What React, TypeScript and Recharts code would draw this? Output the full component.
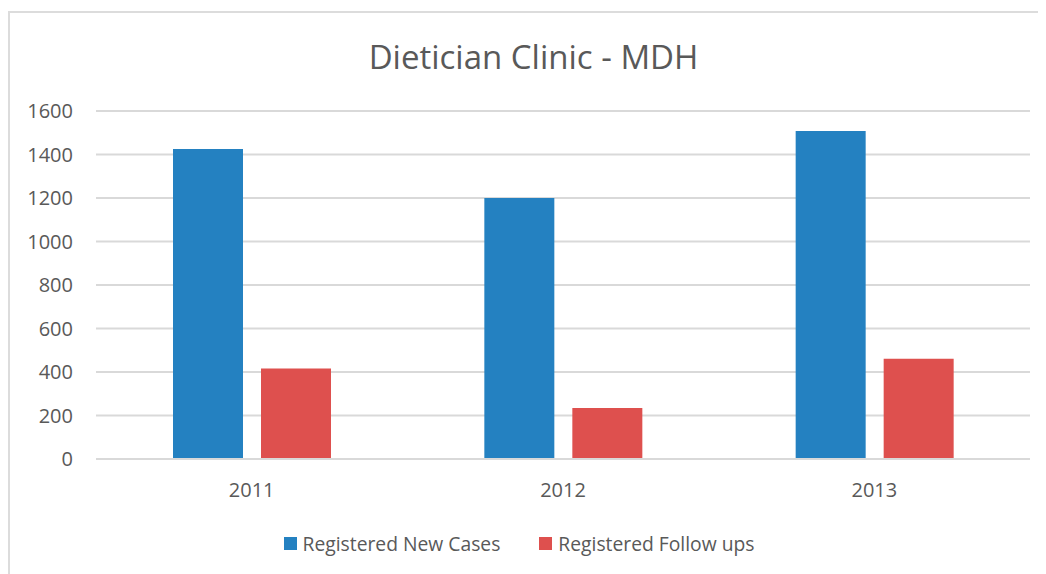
import { Bar, BarChart, CartesianGrid, Legend, XAxis, YAxis } from "recharts";

const years = ["2011", "2012", "2013"];
const newCases = [1425, 1200, 1508];
const followUps = [416, 234, 461];
const yTicks = [0, 200, 400, 600, 800, 1000, 1200, 1400, 1600];

const SERIES = [
  { key: "newCases", name: "Registered New Cases", color: "#2481c1" },
  { key: "followUps", name: "Registered Follow ups", color: "#de504e" },
];

const data = years.map((year, i) => ({
  year,
  newCases: newCases[i],
  followUps: followUps[i],
}));

const FONT = "'Open Sans', sans-serif";
const TEXT = "#595959";

function ChartLegend() {
  return (
    <div style={{ display: "flex", justifyContent: "center", gap: 39, height: 30, alignItems: "center", paddingLeft: 0 }}>
      {SERIES.map((s) => (
        <div key={s.key} style={{ display: "flex", alignItems: "center", gap: 6 }}>
          <span style={{ width: 13, height: 13, background: s.color, display: "inline-block" }} />
          <span style={{ fontFamily: FONT, fontSize: 19.3, color: TEXT }}>{s.name}</span>
        </div>
      ))}
    </div>
  );
}

export default function App() {
  return (
    <div style={{ position: "relative", width: 1038, height: 566 }}>
      <div
        style={{
          position: "absolute",
          left: 0,
          top: 3,
          width: 1040,
          height: 600,
          borderLeft: "2px solid #dcdcdc",
          borderTop: "2px solid #dcdcdc",
        }}
      />
      <div
        style={{
          position: "absolute",
          left: 0,
          top: 28,
          width: 1051,
          textAlign: "center",
          fontFamily: FONT,
          fontSize: 33,
          color: TEXT,
          lineHeight: "42px",
        }}
      >
        Dietician Clinic - MDH
      </div>
      <BarChart
        width={1038}
        height={566}
        data={data}
        margin={{ top: 103, right: 16, bottom: 16, left: 0 }}
        barGap={18}
        barSize={70}
        style={{ position: "absolute", left: 0, top: 0 }}
      >
        <CartesianGrid vertical={false} stroke="#d9d9d9" strokeWidth={2} />
        <XAxis
          dataKey="year"
          height={69}
          axisLine={{ stroke: "#d9d9d9", strokeWidth: 2 }}
          tickLine={false}
          tickSize={0}
          tickMargin={24}
          tick={{ fill: TEXT, fontSize: 20, fontFamily: FONT }}
        />
        <YAxis
          width={88}
          domain={[0, 1600]}
          ticks={yTicks}
          axisLine={false}
          tickLine={false}
          tickSize={0}
          tickMargin={23}
          tick={{ fill: TEXT, fontSize: 20, fontFamily: FONT }}
        />
        <Legend verticalAlign="bottom" content={<ChartLegend />} />
        {SERIES.map((s) => (
          <Bar key={s.key} dataKey={s.key} name={s.name} fill={s.color} isAnimationActive={false} />
        ))}
      </BarChart>
    </div>
  );
}
